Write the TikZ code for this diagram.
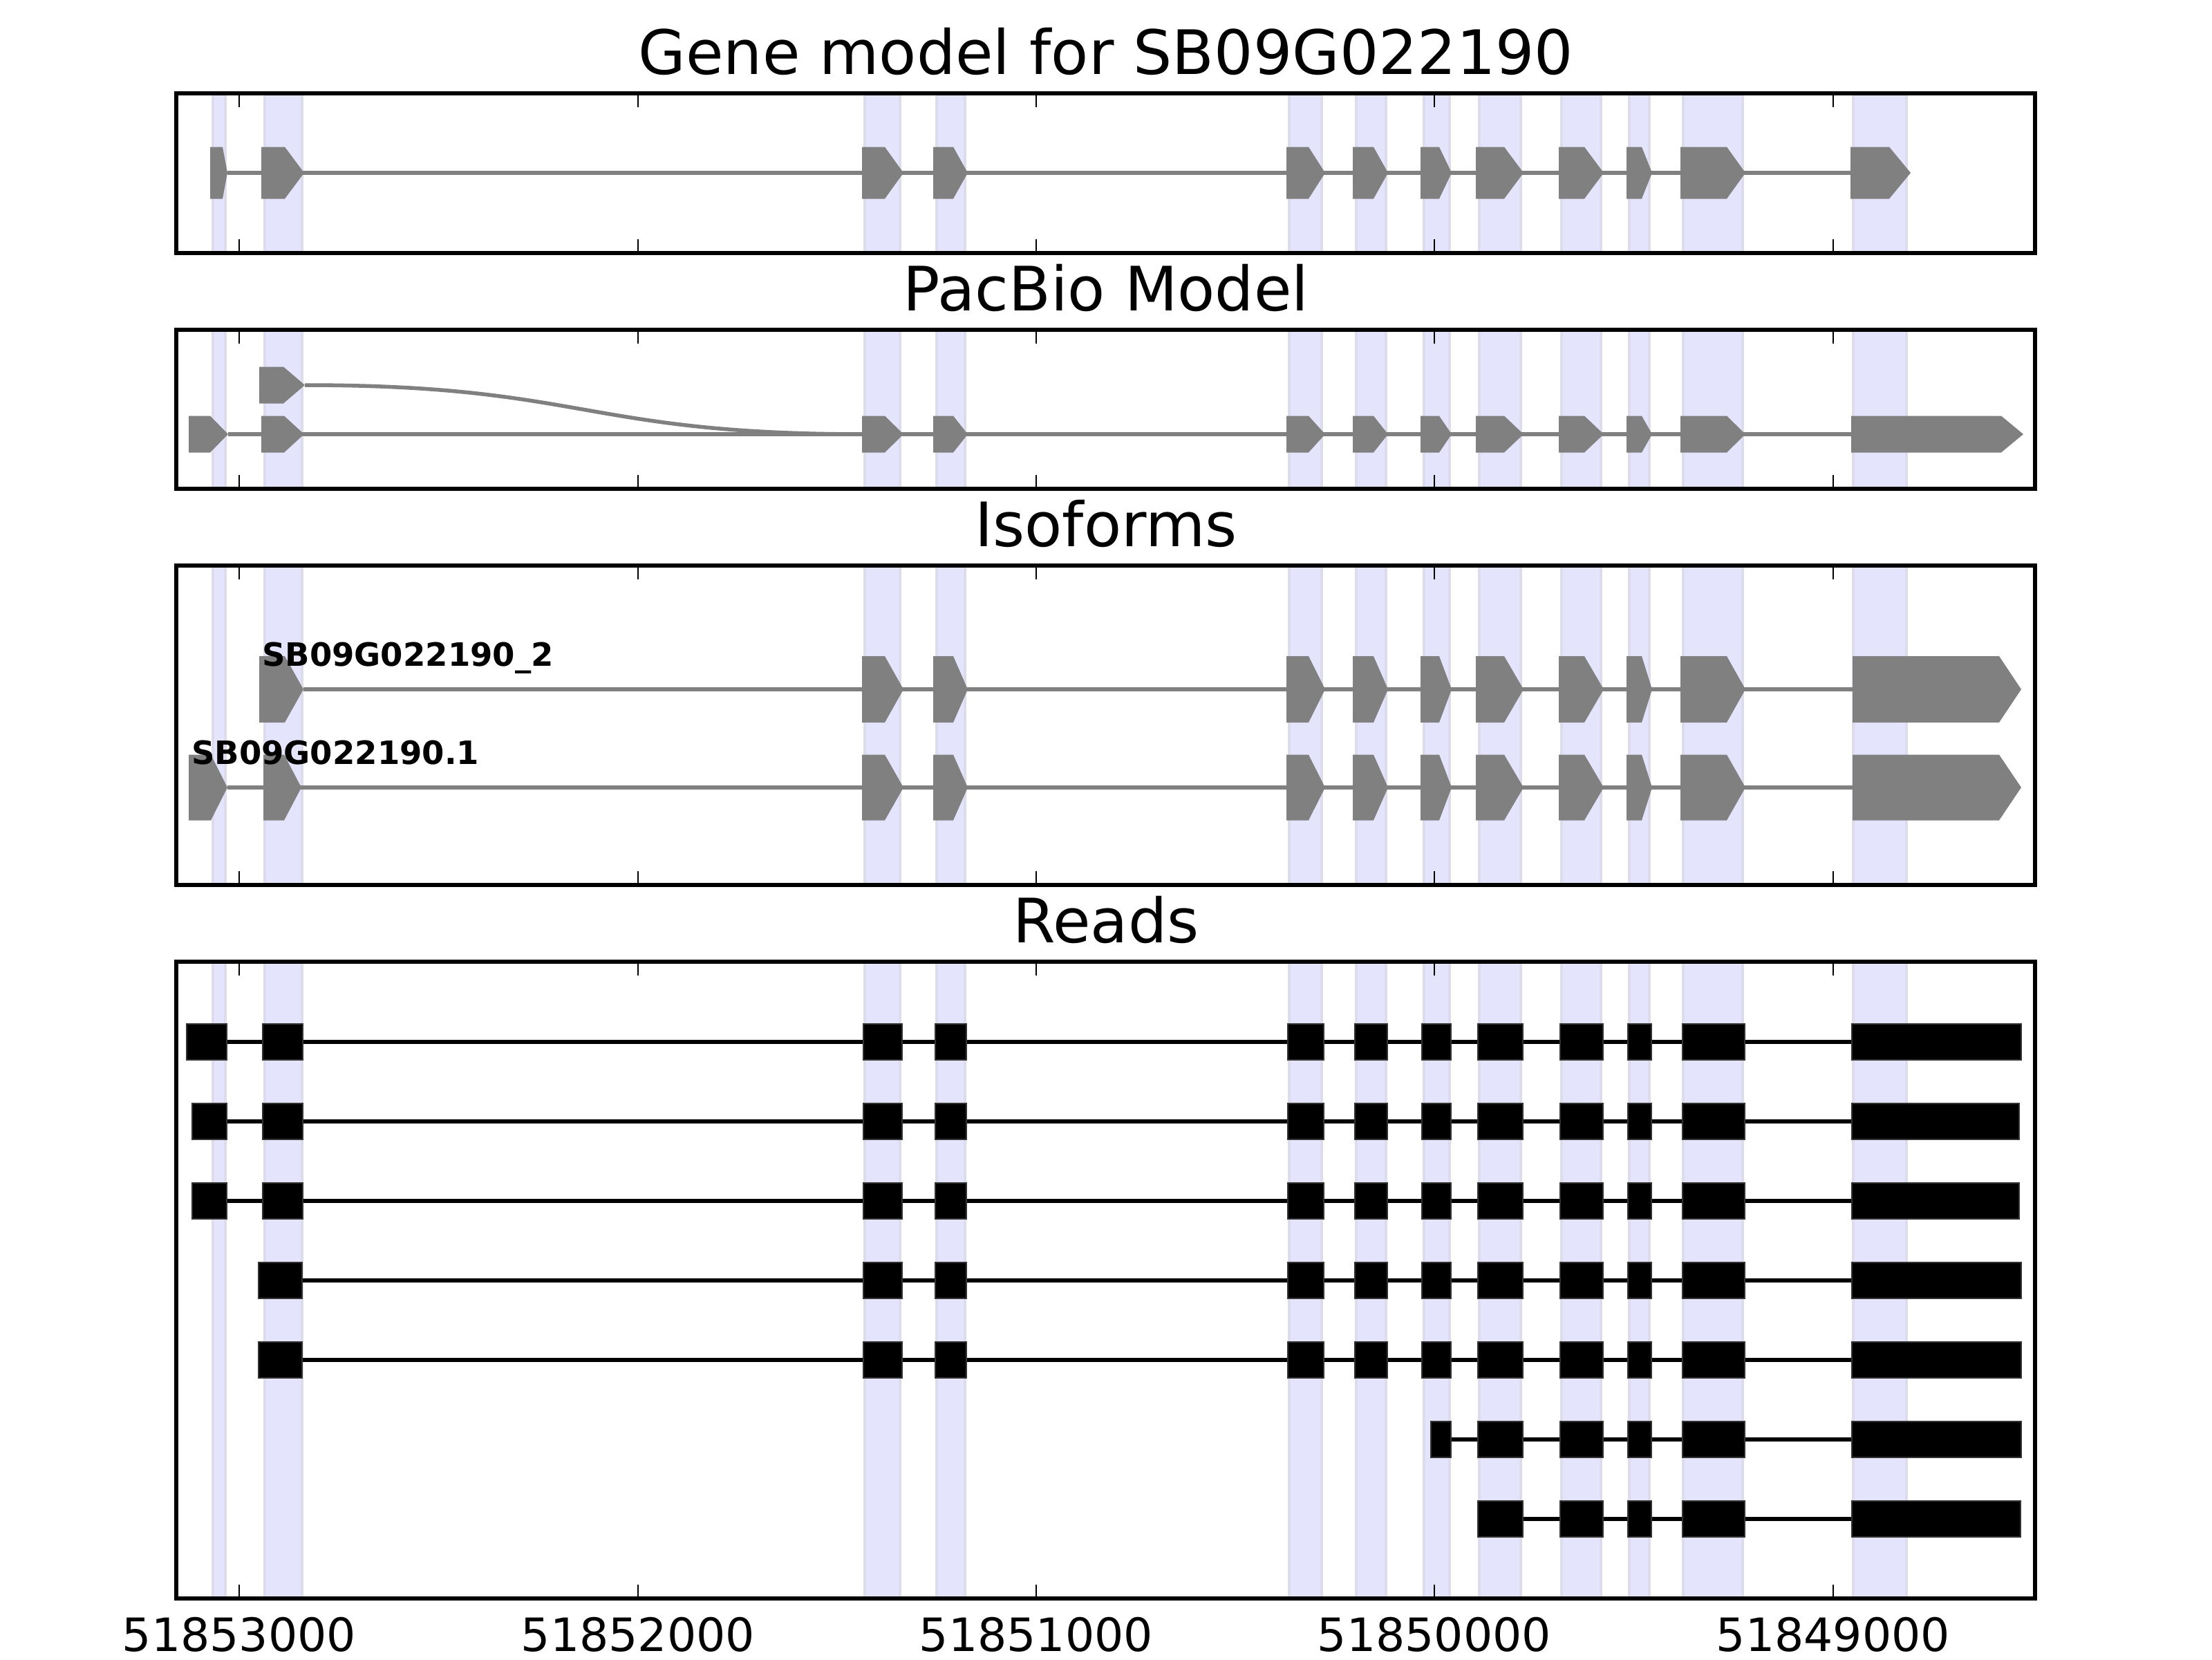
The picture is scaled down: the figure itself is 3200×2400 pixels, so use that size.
\documentclass[tikz,border=0pt]{standalone}
\usepackage{fontspec}
\setmainfont{DejaVu Sans}
\definecolor{exongray}{HTML}{808080}
\definecolor{bandfill}{HTML}{E4E4FC}
\definecolor{bandedge}{HTML}{DCDCEC}
\newcommand{\bandset}{308/326,383/437,1251/1302,1355/1396,1865/1912,1962/2005,2060/2097,2140/2200,2259/2316,2357/2386,2435/2521,2681/2758}
\newcommand{\midexons}{1247/1280/1307,1350/1379/1400,1861/1893/1917,1957/1987/2008,2055/2082/2100,2135/2176/2204,2255/2292/2320,2353/2375/2390,2431/2498/2525}
\newcommand{\midboxes}{1249/1305,1353/1398,1863/1915,1960/2007,2057/2099,2138/2203,2257/2319,2355/2389,2434/2524}
\newcommand{\panelbands}[2]{%
  \foreach \a/\b in \bandset {\filldraw[band] (\a,#1) rectangle (\b,#2);}}
\newcommand{\panelframe}[2]{%
  \draw[frame] (255,#1) rectangle (2944,#2);
  \foreach \t in {346,923,1499,2075,2652} {%
    \draw[tickmark] (\t,#1) -- (\t,#1+20);
    \draw[tickmark] (\t,#2) -- (\t,#2-20);}}
\newcommand{\exonarrow}[5]{%
  \fill[exonshape] (#1,#4-#5) -- (#2,#4-#5) -- (#3,#4) -- (#2,#4+#5) -- (#1,#4+#5) -- cycle;}
\newcommand{\midrow}[2]{%
  \foreach \s/\f/\e in \midexons {\exonarrow{\s}{\f}{\e}{#1}{#2}}}
\newcommand{\rbox}[3]{\filldraw[readbox] (#1,#3-26) rectangle (#2,#3+26);}
\newcommand{\readmid}[1]{%
  \foreach \a/\b in \midboxes {\rbox{\a}{\b}{#1}}}
\begin{document}
\begin{tikzpicture}[x=0.00635cm,y=-0.00635cm,
  frame/.style={line width=1pt, draw=black},
  tickmark/.style={line width=0.5pt, draw=black},
  band/.style={fill=bandfill, draw=bandedge, line width=0.6pt},
  exonshape/.style={fill=exongray},
  intron/.style={draw=exongray, line width=1pt},
  readbox/.style={fill=black, draw=black!80, line width=0.3pt},
  readline/.style={draw=black, line width=1pt},
  paneltitle/.style={font=\fontsize{16}{19}\selectfont, anchor=base, inner sep=0pt},
  ticklabel/.style={font=\fontsize{12}{14}\selectfont, anchor=north, inner sep=0pt},
  isolabel/.style={font=\fontsize{8.4}{10}\selectfont\bfseries, anchor=base west, inner sep=0pt}]
\useasboundingbox (0,0) rectangle (3200,2400);
\fill[white] (0,0) rectangle (3200,2400);

% ---------- backgrounds (exon bands)
\panelbands{135}{366}
\panelbands{477}{707}
\panelbands{818}{1280}
\panelbands{1391}{2312}

% ---------- Panel 1: gene model
\draw[intron] (329,250) -- (2677,250);
\exonarrow{304}{322}{329}{250}{37.5}
\exonarrow{378}{412}{440}{250}{37.5}
\midrow{250}{37.5}
\exonarrow{2677}{2733}{2764}{250}{37.5}

% ---------- Panel 2: PacBio model
\draw[intron] (441,557) .. controls (845,557) and (845,628) .. (1250,628);
\exonarrow{375}{410}{441}{557}{26.5}
\draw[intron] (330,628) -- (2678,628);
\exonarrow{273}{304}{330}{628}{26.5}
\exonarrow{378}{411}{440}{628}{26.5}
\midrow{628}{26.5}
\exonarrow{2678}{2895}{2927}{628}{26.5}

% ---------- Panel 3: isoforms
\draw[intron] (439,997) -- (2680,997);
\exonarrow{375}{412}{439}{997}{48}
\midrow{997}{48}
\exonarrow{2680}{2892}{2924}{997}{48}
\draw[intron] (329,1139) -- (2680,1139);
\exonarrow{273}{305}{329}{1139}{47.5}
\exonarrow{381}{411}{436}{1139}{47.5}
\midrow{1139}{47.5}
\exonarrow{2680}{2892}{2924}{1139}{47.5}
\node[isolabel] (iso2) at (378,963) {SB09G022190\_2};
\node[isolabel] (iso1) at (276,1105) {SB09G022190.1};

% ---------- Panel 4: reads
% row 1
\draw[readline] (328,1507) -- (2679,1507);
\rbox{270}{328}{1507}\rbox{380}{438}{1507}\readmid{1507}\rbox{2679}{2924}{1507}
% row 2
\draw[readline] (328,1622) -- (2679,1622);
\rbox{278}{328}{1622}\rbox{380}{438}{1622}\readmid{1622}\rbox{2679}{2921}{1622}
% row 3
\draw[readline] (328,1737) -- (2679,1737);
\rbox{278}{328}{1737}\rbox{380}{438}{1737}\readmid{1737}\rbox{2679}{2921}{1737}
% row 4
\draw[readline] (437,1852) -- (2679,1852);
\rbox{374}{437}{1852}\readmid{1852}\rbox{2679}{2924}{1852}
% row 5
\draw[readline] (437,1967) -- (2679,1967);
\rbox{374}{437}{1967}\readmid{1967}\rbox{2679}{2924}{1967}
% row 6
\draw[readline] (2099,2082) -- (2679,2082);
\rbox{2070}{2099}{2082}
\foreach \a/\b in {2138/2203,2257/2319,2355/2389,2434/2524} {\rbox{\a}{\b}{2082}}
\rbox{2679}{2924}{2082}
% row 7
\draw[readline] (2203,2197) -- (2679,2197);
\foreach \a/\b in {2138/2203,2257/2319,2355/2389,2434/2524} {\rbox{\a}{\b}{2197}}
\rbox{2679}{2923}{2197}

% ---------- frames and ticks
\panelframe{135}{366}
\panelframe{477}{707}
\panelframe{818}{1280}
\panelframe{1391}{2312}

% ---------- titles
\node[paneltitle] (t1) at (1600,107) {Gene model for SB09G022190};
\node[paneltitle] (t2) at (1600,449) {PacBio Model};
\node[paneltitle] (t3) at (1600,790) {Isoforms};
\node[paneltitle] (t4) at (1600,1363) {Reads};

% ---------- tick labels
\node[ticklabel] (x1) at (346,2338) {51853000};
\node[ticklabel] (x2) at (923,2338) {51852000};
\node[ticklabel] (x3) at (1499,2338) {51851000};
\node[ticklabel] (x4) at (2075,2338) {51850000};
\node[ticklabel] (x5) at (2652,2338) {51849000};
\end{tikzpicture}
\end{document}
